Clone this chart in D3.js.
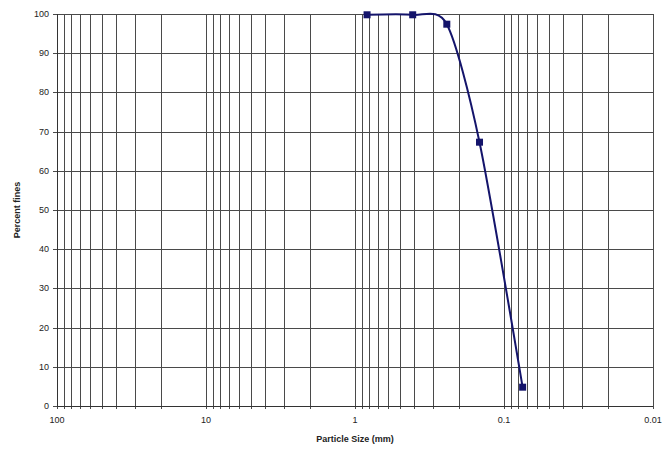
<!DOCTYPE html>
<html>
<head>
<meta charset="utf-8">
<script src="https://cdn.jsdelivr.net/npm/d3@7"></script>
<style>
  body { margin: 0; background: #fff; }
  text { font-family: Arial, "Liberation Sans", sans-serif; fill: #222; }
</style>
</head>
<body>
<div id="chart"></div>
<script>
// sieve data
var sizes = [0.83, 0.41, 0.242, 0.146, 0.075];
var percentFiner = [99.8, 99.8, 97.4, 67.3, 4.8];
var xTickValues = [100, 10, 1, 0.1, 0.01];
var xTickLabels = ['100', '10', '1', '0.1', '0.01'];
var yTickValues = [0, 10, 20, 30, 40, 50, 60, 70, 80, 90, 100];

var width = 663, height = 452;
var margin = { top: 14, right: 10, bottom: 46, left: 57 };
var innerW = 596, innerH = 392;

var svg = d3.select('#chart').append('svg')
    .attr('width', width)
    .attr('height', height);

var g = svg.append('g')
    .attr('transform', 'translate(' + margin.left + ',' + margin.top + ')');

// log scale, reversed: big sizes on the left
var x = d3.scaleLog().domain([100, 0.01]).range([0, innerW]);
var y = d3.scaleLinear().domain([0, 100]).range([innerH, 0]);

// every 1..9 in each decade gets a gridline
var minor = [];
[0.01, 0.1, 1, 10].forEach(function(dec) {
    for (var k = 1; k <= 9; k++) minor.push(dec * k);
});
minor.push(100);

g.append('g').selectAll('line').data(minor).enter().append('line')
    .attr('x1', function(d) { return Math.round(x(d)) + 0.5; })
    .attr('x2', function(d) { return Math.round(x(d)) + 0.5; })
    .attr('y1', 0)
    .attr('y2', innerH + 3)
    .attr('stroke', '#4a4a4a')
    .attr('stroke-width', 1);

g.append('g').selectAll('line').data(yTickValues).enter().append('line')
    .attr('x1', -4)
    .attr('x2', innerW)
    .attr('y1', function(d) { return Math.round(y(d)) + 0.5; })
    .attr('y2', function(d) { return Math.round(y(d)) + 0.5; })
    .attr('stroke', '#4a4a4a')
    .attr('stroke-width', 1);

// axis lines
g.append('line').attr('x1', 0.5).attr('x2', 0.5).attr('y1', 0).attr('y2', innerH)
    .attr('stroke', '#333');
g.append('line').attr('x1', 0).attr('x2', innerW).attr('y1', innerH + 0.5).attr('y2', innerH + 0.5)
    .attr('stroke', '#333');

// tick labels
g.append('g').selectAll('text').data(yTickValues).enter().append('text')
    .attr('x', -8)
    .attr('y', function(d) { return y(d) + 3; })
    .attr('text-anchor', 'end')
    .style('font-size', '9px')
    .text(function(d) { return d; });

g.append('g').selectAll('text').data(xTickValues).enter().append('text')
    .attr('x', function(d) { return x(d); })
    .attr('y', innerH + 17)
    .attr('text-anchor', 'middle')
    .style('font-size', '9px')
    .text(function(d, i) { return xTickLabels[i]; });

// axis titles
svg.append('text')
    .attr('x', margin.left + x(1))
    .attr('y', 442)
    .attr('text-anchor', 'middle')
    .style('font-size', '9px')
    .style('font-weight', 'bold')
    .text('Particle Size (mm)');

svg.append('text')
    .attr('transform', 'translate(20,' + (margin.top + innerH / 2) + ') rotate(-90)')
    .attr('text-anchor', 'middle')
    .style('font-size', '9px')
    .style('font-weight', 'bold')
    .text('Percent fines');

// smoothed curve like excel's
var pts = sizes.map(function(s, i) { return [x(s), y(percentFiner[i])]; });
var line = d3.line().curve(d3.curveCardinal.tension(0.2));

g.append('path')
    .attr('d', line(pts))
    .attr('fill', 'none')
    .attr('stroke', '#14146b')
    .attr('stroke-width', 2);

g.append('g').selectAll('rect').data(pts).enter().append('rect')
    .attr('x', function(d) { return d[0] - 3.5; })
    .attr('y', function(d) { return d[1] - 3.5; })
    .attr('width', 7)
    .attr('height', 7)
    .attr('fill', '#14146b');
</script>
</body>
</html>
